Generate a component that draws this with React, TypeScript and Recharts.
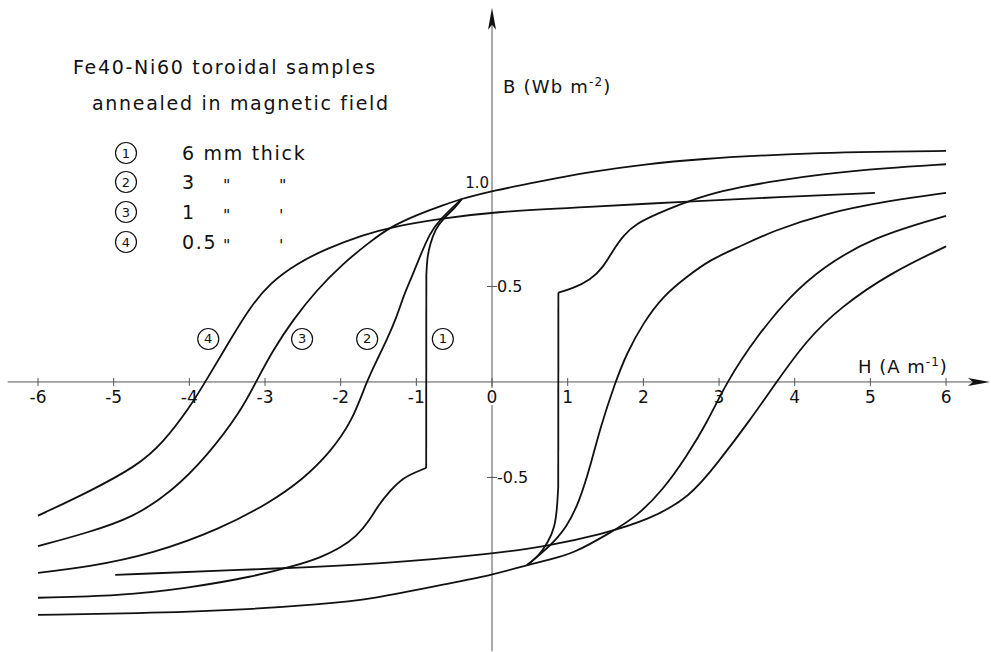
import { LineChart, Line, XAxis, YAxis, ReferenceLine, ReferenceDot } from 'recharts'

type Pt = { h: number; b: number }
const pts = (arr: number[][]): Pt[] => arr.map(([h, b]) => ({ h, b }))

// upper branch shared by samples 1-3 (coming down from +H)
const commonUpper = pts([
  [6.0, 1.21], [5.0, 1.205], [4.37, 1.2], [3.5, 1.185], [2.84, 1.17],
  [2.0, 1.14], [1.3, 1.1], [0.63, 1.05], [0, 1.0], [-0.4, 0.958],
])
// lower branch shared by samples 1-3 (going up from -H)
const commonLower = pts([
  [-6.0, -1.22], [-4.48, -1.21], [-3.16, -1.19], [-2.3, -1.165], [-1.61, -1.14],
  [-0.51, -1.05], [0, -1.01], [0.46, -0.96],
])

// sample 1 (6 mm): square loop with jumps at +-0.87
const loop1DownTop = pts([
  [-0.4, 0.958], [-0.47, 0.92], [-0.64, 0.857], [-0.75, 0.8], [-0.82, 0.72],
  [-0.855, 0.656], [-0.868, 0.56],
])
const loop1DownJump = pts([[-0.868, 0.56], [-0.87, -0.45]])
const loop1DownTail = pts([
  [-0.87, -0.45], [-0.99, -0.47], [-1.17, -0.5], [-1.35, -0.57], [-1.51, -0.65],
  [-1.61, -0.72], [-1.79, -0.81], [-2.01, -0.87], [-2.27, -0.92], [-2.58, -0.96],
  [-3.16, -1.02], [-4.03, -1.08], [-4.92, -1.12], [-6.0, -1.13],
])
const loop1UpBottom = pts([[0.46, -0.96], [0.62, -0.91], [0.74, -0.84], [0.83, -0.76], [0.86, -0.66], [0.875, -0.55]])
const loop1UpJump = pts([[0.875, -0.55], [0.877, 0.468]])
const loop1UpTail = pts([
  [0.877, 0.468], [1.07, 0.49], [1.3, 0.534], [1.47, 0.6], [1.6, 0.69],
  [1.74, 0.77], [1.91, 0.83], [2.18, 0.88], [2.48, 0.93], [2.84, 0.98],
  [3.28, 1.02], [3.7, 1.05], [4.38, 1.09], [5.2, 1.12], [6.0, 1.14],
])

// sample 2 (3 mm)
const loop2Down = pts([
  [-0.4, 0.958], [-0.69, 0.85], [-0.82, 0.78], [-0.95, 0.66], [-1.06, 0.55],
  [-1.17, 0.45], [-1.26, 0.34], [-1.39, 0.22], [-1.52, 0.115], [-1.66, 0.0],
  [-1.84, -0.2], [-2.14, -0.37], [-2.5, -0.51], [-2.93, -0.63], [-3.59, -0.77],
  [-4.48, -0.9], [-5.35, -0.97], [-6.0, -1.0],
])
const loop2Up = pts([
  [0.46, -0.96], [0.77, -0.86], [0.99, -0.76], [1.16, -0.62], [1.3, -0.44],
  [1.43, -0.24], [1.63, 0.0], [1.78, 0.15], [2.0, 0.31], [2.26, 0.45],
  [2.57, 0.55], [2.88, 0.64], [3.28, 0.71], [3.71, 0.79], [4.37, 0.88],
  [5.26, 0.95], [6.0, 0.99],
])

// sample 3 (1 mm)
const loop3Down = pts([
  [-0.4, 0.958], [-0.64, 0.927], [-1.0, 0.874], [-1.35, 0.81], [-1.61, 0.735],
  [-1.97, 0.62], [-2.32, 0.48], [-2.63, 0.325], [-2.89, 0.17], [-3.12, 0.0],
  [-3.33, -0.16], [-3.77, -0.39], [-4.22, -0.57], [-4.74, -0.71], [-5.35, -0.79],
  [-6.0, -0.86],
])
const loop3Up = pts([
  [0.46, -0.96], [0.75, -0.93], [1.07, -0.9], [1.56, -0.79], [1.91, -0.705],
  [2.26, -0.565], [2.57, -0.39], [2.84, -0.215], [3.1, 0.0], [3.5, 0.24],
  [3.94, 0.45], [4.37, 0.6], [5.04, 0.76], [6.0, 0.87],
])

// sample 4 (0.5 mm), measured from -5 / +5
const loop4Down = pts([
  [5.06, 0.99], [3.8, 0.968], [2.53, 0.944], [1.2, 0.915], [0, 0.89],
  [-0.64, 0.857], [-1.35, 0.81], [-1.7, 0.77], [-2.18, 0.7], [-2.58, 0.62],
  [-2.93, 0.52], [-3.2, 0.39], [-3.46, 0.22], [-3.79, 0.0], [-3.99, -0.13],
  [-4.35, -0.32], [-4.69, -0.44], [-5.35, -0.58], [-6.0, -0.7],
])
const loop4Up = pts([
  [-4.98, -1.01], [-2.71, -0.975], [-1.39, -0.95], [0.02, -0.9], [0.72, -0.86],
  [1.43, -0.8], [2.09, -0.72], [2.62, -0.6], [2.97, -0.43], [3.41, -0.2],
  [3.76, 0.0], [4.16, 0.22], [4.6, 0.39], [5.26, 0.57], [6.0, 0.71],
])

const curves = [
  commonUpper, commonLower,
  loop1DownTop, loop1DownJump, loop1DownTail, loop1UpBottom, loop1UpJump, loop1UpTail,
  loop2Down, loop2Up, loop3Down, loop3Up, loop4Down, loop4Up,
]

const xTickValues = [-6, -5, -4, -3, -2, -1, 0, 1, 2, 3, 4, 5, 6]
const xTickLabels = ['-6', '-5', '-4', '-3', '-2', '-1', '0', '1', '2', '3', '4', '5', '6']
const yTickValues = [1.0, 0.5, -0.5]
const yTickLabels = ['1.0', '0.5', '-0.5']

// circled numbers sitting next to the descending branches
const tagH = [-0.65, -1.65, -2.51, -3.75]
const tagB = 0.225
const tagLabels = ['1', '2', '3', '4']

const legendTags = ['1', '2', '3', '4']
const legendThick = ['6', '3', '1', '0.5']

const FONT = "'DejaVu Sans', sans-serif"
const INK = '#111'

function XTick({ cx, cy, label }: any) {
  return (
    <g>
      <line x1={cx} y1={cy - 4} x2={cx} y2={cy + 4} stroke="#555" strokeWidth={1} />
      <text x={cx} y={cy + 21} textAnchor="middle" fontSize={17} fontFamily={FONT} fill={INK}
        stroke={label === '0' ? '#fff' : 'none'} strokeWidth={4} paintOrder="stroke">
        {label}
      </text>
    </g>
  )
}

function YTick({ cx, cy, label, value }: any) {
  if (value > 0.75) {
    return (
      <text x={cx - 3} y={cy - 3} textAnchor="end" fontSize={15} fontFamily={FONT} fill={INK}>
        {label}
      </text>
    )
  }
  return (
    <g>
      <line x1={cx - 5} y1={cy} x2={cx + 5} y2={cy} stroke="#555" strokeWidth={1} />
      <text x={cx + 5} y={cy + 6} fontSize={16} fontFamily={FONT} fill={INK}>
        {label}
      </text>
    </g>
  )
}

function Tag({ cx, cy, label }: any) {
  return (
    <g>
      <circle cx={cx} cy={cy} r={10.5} fill="none" stroke={INK} strokeWidth={1.2} />
      <text x={cx} y={cy + 4.5} textAnchor="middle" fontSize={13} fontFamily={FONT} fill={INK}>
        {label}
      </text>
    </g>
  )
}

function ArrowRight({ cx, cy }: any) {
  return <polygon points={`${cx},${cy} ${cx - 22},${cy - 4} ${cx - 17},${cy} ${cx - 22},${cy + 4}`} fill={INK} />
}

function ArrowUp({ cx, cy }: any) {
  return <polygon points={`${cx},${cy} ${cx + 4},${cy + 22} ${cx},${cy + 17} ${cx - 4},${cy + 22}`} fill={INK} />
}

function Annotations() {
  const rowY = [153, 182, 212, 242]
  return (
    <svg width={991} height={652} style={{ position: 'absolute', left: 0, top: 0, pointerEvents: 'none' }}>
      <g fontFamily={FONT} fill={INK} fontSize={19} letterSpacing={1.7}>
        <text x={73} y={74}>Fe40-Ni60 toroidal samples</text>
        <text x={92} y={110}>annealed in magnetic field</text>
        {legendTags.map((t, i) => (
          <g key={t}>
            <circle cx={126} cy={rowY[i]} r={10.5} fill="none" stroke={INK} strokeWidth={1.2} />
            <text x={126} y={rowY[i] + 4.5} textAnchor="middle" fontSize={13} letterSpacing={0}>{t}</text>
            <text x={182} y={rowY[i] + 7}>
              {i === 0 ? `${legendThick[i]} mm thick` : legendThick[i]}
            </text>
            {i > 0 && <text x={223} y={rowY[i] + 9} fontSize={16}>"</text>}
            {i > 0 && <text x={279} y={rowY[i] + 9} fontSize={16}>{i === 1 ? '"' : "'"}</text>}
          </g>
        ))}
      </g>
      <g fontFamily={FONT} fill={INK} fontSize={18} letterSpacing={1.2}>
        <text x={503} y={93}>
          B (Wb m<tspan dy={-7} fontSize={12}>-2</tspan><tspan dy={7}>)</tspan>
        </text>
        <text x={858} y={373} letterSpacing={1}>
          H (A m<tspan dy={-7} fontSize={12}>-1</tspan><tspan dy={7}>)</tspan>
        </text>
      </g>
    </svg>
  )
}

export default function App() {
  return (
    <div style={{ position: 'absolute', left: 0, top: 0, width: 991, height: 652, background: '#fff' }}>
      <LineChart width={991} height={652} margin={{ top: 0, right: 0, bottom: 0, left: 0 }}>
        <XAxis type="number" dataKey="h" domain={[-6.502, 6.594]} allowDataOverflow hide />
        <YAxis type="number" dataKey="b" domain={[-1.414, 2.0]} allowDataOverflow hide />
        <ReferenceLine segment={[{ x: -6.4, y: 0 }, { x: 6.5, y: 0 }]} stroke="#555" strokeWidth={1} />
        <ReferenceLine segment={[{ x: 0, y: 1.9 }, { x: 0, y: -1.41 }]} stroke="#555" strokeWidth={1} />
        {curves.map((c, i) => (
          <Line key={i} data={c} dataKey="b" type="basis" dot={false} activeDot={false}
            stroke={INK} strokeWidth={1.8} isAnimationActive={false} />
        ))}
        <ReferenceDot x={6.58} y={0} r={0} shape={(p: any) => <ArrowRight {...p} />} />
        <ReferenceDot x={0} y={1.96} r={0} shape={(p: any) => <ArrowUp {...p} />} />
        {xTickValues.map((v, i) => (
          <ReferenceDot key={'x' + v} x={v} y={0} r={0} shape={(p: any) => <XTick {...p} label={xTickLabels[i]} />} />
        ))}
        {yTickValues.map((v, i) => (
          <ReferenceDot key={'y' + v} x={0} y={v} r={0} shape={(p: any) => <YTick {...p} value={v} label={yTickLabels[i]} />} />
        ))}
        {tagH.map((h, i) => (
          <ReferenceDot key={'t' + i} x={h} y={tagB} r={0} shape={(p: any) => <Tag {...p} label={tagLabels[i]} />} />
        ))}
      </LineChart>
      <Annotations />
    </div>
  )
}
